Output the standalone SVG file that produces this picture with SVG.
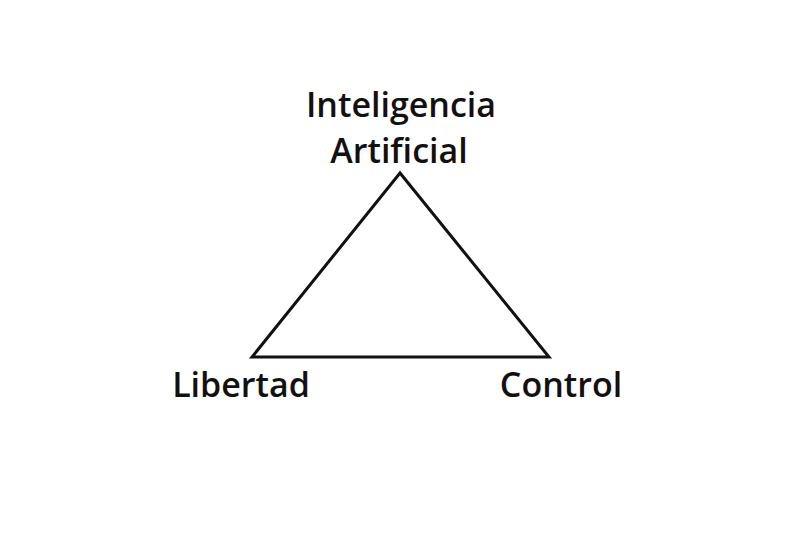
<svg xmlns="http://www.w3.org/2000/svg" width="800" height="533" viewBox="0 0 800 533">
<style>
.lbl{font-family:"Open Sans","Liberation Sans",sans-serif;font-size:34px;font-weight:600;fill:#111;text-anchor:middle}
.edge{fill:none;stroke:#111;stroke-width:3;stroke-linejoin:miter}
</style>
<rect width="800" height="533" fill="#fff"/>
<g id="connectors">
<polygon class="edge" points="400,173 252,357 549,357"/>
</g>
<g id="node-ia">
<text class="lbl" x="401" y="117">Inteligencia</text>
<text class="lbl" x="399" y="163">Artificial</text>
</g>
<g id="node-libertad">
<text class="lbl" x="241" y="397">Libertad</text>
</g>
<g id="node-control">
<text class="lbl" x="561" y="397">Control</text>
</g>
</svg>
